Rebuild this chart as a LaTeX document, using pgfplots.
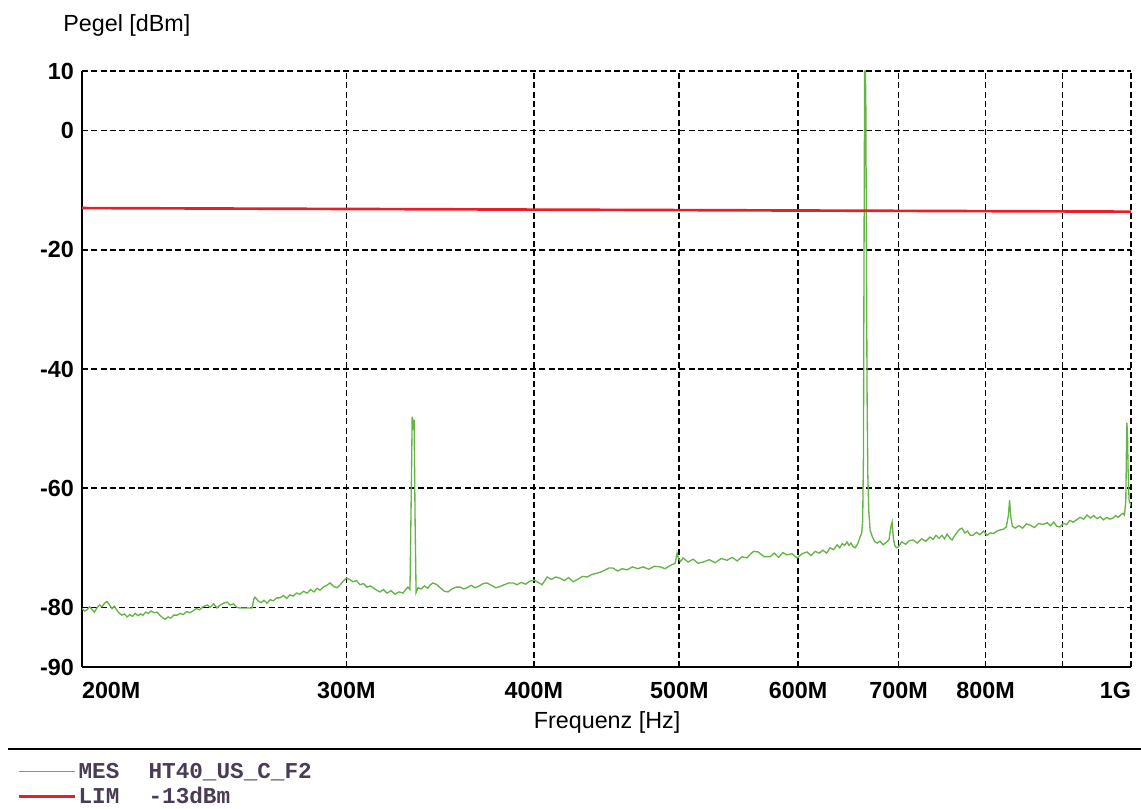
\documentclass[border=0pt]{standalone}
\usepackage{pgfplots}
\pgfplotsset{compat=1.18}
\usepackage{fontspec}
\setmainfont{Liberation Sans}
\newfontfamily\monofont{Liberation Mono}
\definecolor{trace}{RGB}{100,180,70}
\definecolor{limred}{RGB}{232,30,40}
\definecolor{legtext}{RGB}{75,60,85}
\newcommand{\bigfont}{\fontsize{17.5}{21}\selectfont}
\begin{document}
\begin{tikzpicture}
\path[use as bounding box] (-61.5pt,-106.5pt) rectangle (794.25pt,500.25pt);
\begin{axis}[
  name=ax,
  at={(0pt,0pt)}, anchor=south west,
  scale only axis,
  width=786.75pt, height=447pt,
  xmode=log,
  xmin=200, xmax=1000,
  ymin=-90, ymax=10,
  axis x line*=bottom, axis y line*=left,
  axis line style={-, line width=1.5pt, black},
  major tick length=0pt,
  xtick={200,300,400,500,600,700,800,900,1000},
  xticklabels={\makebox[0pt][l]{200M},300M,400M,500M,600M,700M,800M,{},\makebox[0pt][r]{1G}},
  ytick={-90,-80,-60,-40,-20,0,10},
  yticklabels={-90,-80,-60,-40,-20,0,10},
  minor xtick={},
  xticklabel style={font=\bfseries\bigfont, anchor=north, inner sep=0pt, yshift=-11pt},
  yticklabel style={font=\bfseries\bigfont, anchor=east, inner sep=0pt, xshift=-6pt},
  grid=major,
  major grid style={black, line width=1.2pt, dash pattern=on 4.5pt off 2.5pt},
  ylabel={Pegel [dBm]},
  xlabel={Frequenz [Hz]},
  every axis y label/.style={at={(axis description cs:-0.0181,1.077)}, anchor=west, inner sep=0pt, font=\bigfont},
  every axis x label/.style={at={(axis description cs:0.5005,-0.0923)}, anchor=center, inner sep=0pt, font=\bigfont},
  legend style={at={(axis description cs:-0.0658,-0.152)}, anchor=north west, draw=none, fill=none,
    font=\monofont\bfseries\fontsize{17}{20}\selectfont, text=legtext, row sep=1pt},
  legend cell align=left,
  legend image code/.code={\draw[#1] (0pt,0pt) -- (42pt,0pt);},
]
\addplot[trace, line width=1pt] coordinates {
(200.0,-80.2) (200.8,-80.6) (201.5,-80.4) (202.3,-79.9) (203.0,-80.3) (203.8,-80.8)
(204.6,-80.1) (205.4,-79.6) (206.2,-79.9) (207.0,-79.3) (207.8,-79.0) (208.6,-79.6)
(209.4,-80.2) (210.2,-79.8) (211.0,-80.5) (211.8,-81.0) (212.6,-81.3) (213.4,-81.1)
(214.3,-81.6) (215.2,-81.2) (216.1,-81.5) (217.0,-81.0) (217.9,-81.4) (218.8,-81.1)
(219.6,-81.3) (220.5,-80.8) (221.4,-81.0) (222.3,-80.6) (223.4,-80.9) (224.4,-80.8)
(225.3,-81.3) (226.2,-81.7) (227.2,-82.0) (228.2,-81.6) (229.2,-81.8) (230.2,-81.3)
(231.4,-81.3) (232.5,-81.0) (233.6,-81.2) (234.8,-80.7) (235.9,-80.9) (237.1,-80.6)
(238.3,-80.2) (239.5,-80.4) (240.8,-79.9) (242.3,-79.6) (243.5,-80.0) (244.7,-79.4)
(246.0,-80.1) (247.2,-79.6) (248.5,-79.3) (249.8,-79.1) (251.0,-79.6) (252.3,-79.4)
(253.6,-80.0) (254.9,-80.1) (256.2,-80.1) (257.5,-80.1) (258.8,-80.1) (259.6,-80.1)
(260.3,-78.6) (260.8,-78.3) (262.0,-78.9) (263.2,-79.2) (264.4,-78.8) (265.6,-79.3)
(266.9,-78.7) (268.2,-78.9) (269.6,-78.4) (271.0,-78.4) (272.4,-78.0) (273.8,-78.5)
(275.1,-77.9) (276.5,-78.1) (277.9,-77.6) (279.4,-77.8) (280.9,-77.3) (282.5,-77.6)
(284.0,-77.0) (285.5,-77.4) (286.8,-76.8) (288.1,-77.1) (289.6,-76.6) (291.1,-76.3)
(292.6,-75.9) (294.2,-76.5) (295.8,-76.7) (297.2,-76.2) (298.6,-75.6) (300.0,-75.1)
(301.5,-75.3) (303.1,-75.7) (304.7,-75.5) (306.4,-76.2) (308.0,-76.0) (309.7,-76.6)
(311.2,-76.4) (312.6,-76.7) (314.2,-77.1) (315.9,-77.4) (317.6,-77.0) (319.3,-77.6)
(321.3,-77.2) (323.3,-77.8) (325.3,-77.4) (327.3,-77.6) (328.6,-77.0) (329.8,-76.6)
(330.8,-77.0) (331.4,-62.0) (331.9,-48.0) (332.4,-49.5) (332.9,-48.5) (333.4,-66.0)
(333.9,-77.5) (334.9,-76.7) (336.5,-76.9) (338.2,-76.4) (339.9,-76.8) (341.3,-76.2)
(342.7,-75.9) (344.8,-76.2) (346.8,-76.8) (348.7,-77.3) (350.7,-77.4) (352.8,-76.9)
(355.0,-76.6) (357.2,-76.6) (359.2,-76.9) (361.1,-76.7) (363.3,-76.3) (365.5,-76.7)
(367.9,-76.4) (370.1,-76.0) (372.3,-75.9) (374.8,-76.3) (377.3,-76.7) (379.8,-76.5)
(382.3,-76.2) (384.9,-75.9) (387.5,-75.9) (389.8,-76.2) (392.4,-75.8) (395.0,-76.1)
(397.6,-75.6) (400.0,-75.4) (402.6,-75.8) (405.1,-76.2) (408.2,-74.9) (410.9,-75.3)
(413.6,-74.9) (416.4,-75.1) (419.2,-75.5) (421.9,-75.0) (424.8,-75.7) (427.8,-75.3)
(431.0,-74.8) (434.1,-74.9) (437.0,-74.5) (439.9,-74.3) (442.8,-74.1) (445.7,-73.8)
(448.7,-73.4) (451.7,-73.4) (454.9,-73.9) (458.2,-73.5) (461.5,-73.7) (465.3,-73.2)
(469.1,-73.5) (473.0,-73.2) (477.1,-73.6) (481.3,-73.1) (485.5,-73.2) (489.2,-73.5)
(492.9,-73.0) (496.8,-72.6) (498.3,-70.9) (499.5,-71.8) (501.0,-72.3) (502.9,-71.7)
(506.8,-72.4) (510.7,-71.9) (514.6,-72.6) (518.6,-72.4) (523.5,-72.0) (528.3,-72.5)
(533.2,-71.8) (538.0,-72.1) (542.2,-71.6) (546.4,-72.2) (550.6,-71.5) (554.8,-71.7)
(557.9,-71.0) (560.5,-70.6) (564.3,-70.7) (569.5,-71.5) (574.7,-71.5) (578.5,-70.9)
(582.3,-71.6) (586.1,-70.8) (589.9,-71.2) (594.5,-71.0) (599.1,-71.7) (603.7,-71.0)
(608.3,-70.7) (612.1,-71.3) (615.9,-70.6) (619.7,-70.9) (623.4,-70.4) (626.8,-70.9)
(630.2,-70.0) (633.6,-70.3) (637.0,-69.5) (639.5,-70.0) (642.0,-69.3) (644.4,-69.6)
(646.8,-69.0) (648.8,-69.6) (650.8,-69.2) (652.8,-69.8) (654.8,-70.0) (657.3,-69.4)
(659.9,-68.2) (661.5,-67.5) (662.5,-65.5) (663.3,-55.0) (663.9,-20.0) (664.5,10.0)
(665.2,10.0) (665.7,6.0) (666.3,-20.0) (667.0,-45.0) (667.8,-58.0) (668.8,-64.0)
(670.1,-67.0) (672.5,-68.2) (675.0,-69.0) (677.3,-69.2) (680.4,-68.9) (683.6,-69.5)
(686.8,-69.1) (689.9,-68.6) (691.8,-66.5) (693.1,-65.7) (694.5,-68.5) (696.0,-69.6)
(697.7,-70.0) (699.5,-69.9) (703.5,-69.0) (707.6,-69.4) (711.7,-68.8) (715.8,-68.7)
(720.5,-69.2) (725.2,-68.5) (729.9,-68.9) (734.7,-68.2) (738.1,-68.6) (741.5,-67.9)
(744.9,-68.4) (748.3,-67.9) (751.2,-68.5) (754.1,-67.7) (757.0,-68.3) (759.9,-68.7)
(762.8,-68.0) (765.8,-67.4) (768.7,-66.9) (771.7,-66.7) (775.0,-67.5) (778.2,-67.2)
(781.5,-67.9) (784.8,-67.9) (789.0,-67.4) (793.3,-67.8) (797.5,-67.2) (801.8,-67.9)
(805.8,-67.5) (809.9,-67.6) (814.0,-67.2) (818.0,-67.0) (822.0,-66.9) (825.8,-66.5)
(828.5,-64.5) (830.0,-62.0) (831.5,-64.8) (833.5,-66.4) (837.0,-66.7) (841.9,-66.3)
(846.8,-66.7) (851.6,-66.0) (856.5,-66.2) (862.2,-66.6) (867.9,-65.9) (873.5,-66.1)
(879.2,-65.8) (883.6,-66.3) (888.1,-65.7) (892.5,-66.4) (896.9,-66.5) (901.4,-65.9)
(905.9,-66.1) (910.4,-65.4) (914.9,-65.7) (919.9,-65.3) (924.8,-64.9) (929.8,-65.2)
(934.8,-64.5) (939.5,-65.0) (944.3,-64.6) (949.0,-65.1) (953.7,-64.8) (958.5,-65.3)
(963.3,-64.9) (968.1,-65.2) (972.9,-65.0) (976.6,-64.6) (980.4,-64.9) (984.1,-64.5)
(987.9,-64.2) (990.0,-64.5) (992.0,-62.0) (993.5,-49.0) (994.5,-50.5) (995.5,-57.0)
(997.0,-62.0) (998.5,-62.5) (1000.0,-63.0)
};
\addlegendentry{\makebox[52.5pt][l]{MES}HT40\_US\_C\_F2}
\addplot[limred, line width=2pt] coordinates {(200,-13.0) (1000,-13.6)};
\addlegendentry{\makebox[52.5pt][l]{LIM}-13dBm}
\end{axis}
\draw[black, line width=1.5pt] (-55.5pt,-61.5pt) -- (794.25pt,-61.5pt);
\end{tikzpicture}
\end{document}
